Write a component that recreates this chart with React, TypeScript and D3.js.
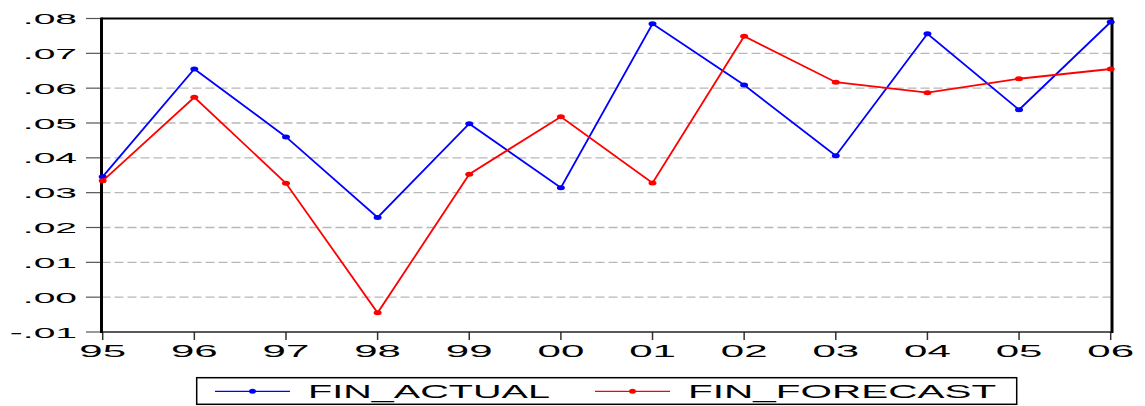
import React from "react";
import * as d3 from "d3";

const years = ["95", "96", "97", "98", "99", "00", "01", "02", "03", "04", "05", "06"];
const finActual = [0.0346, 0.0655, 0.046, 0.0229, 0.0498, 0.0314, 0.0785, 0.0609, 0.0406, 0.0756, 0.0538, 0.079];
const finForecast = [0.0334, 0.0574, 0.0327, -0.0045, 0.0353, 0.0518, 0.0328, 0.0749, 0.0617, 0.0587, 0.0627, 0.0655];
const yTicks = [-0.01, 0.0, 0.01, 0.02, 0.03, 0.04, 0.05, 0.06, 0.07, 0.08];
const yTickLabels = ["-.01", ".00", ".01", ".02", ".03", ".04", ".05", ".06", ".07", ".08"];
const seriesNames = ["FIN_ACTUAL", "FIN_FORECAST"];

const W = 1145;
const H = 406;
const FONT = "'Liberation Sans', Arial, sans-serif";

export default function App() {
  const x = d3.scaleLinear().domain([0, years.length - 1]).range([102.7, 1110.7]);
  const y = d3.scaleLinear().domain([-0.01, 0.08]).range([332, 18.5]);
  const line = d3
    .line<number>()
    .x((_, i) => x(i))
    .y((d) => y(d));

  const series = [
    { name: seriesNames[0], data: finActual, color: "#0000ff" },
    { name: seriesNames[1], data: finForecast, color: "#ff0000" },
  ];

  const left = 101.5;
  const right = 1112;
  const top = y(0.08);
  const bottom = y(-0.01);

  const legendItems = [
    { x0: 215, x1: 290, tx: 308, sx: 2.2 },
    { x0: 595, x1: 670, tx: 688, sx: 2.25 },
  ];

  return (
    <svg width={W} height={H} style={{ position: "absolute", left: 0, top: 0, background: "#fff" }}>
      <rect x={0} y={0} width={W} height={H} fill="#fff" />
      {/* grid */}
      {yTicks
        .filter((t) => t > -0.01 && t < 0.08)
        .map((t) => (
          <line
            key={"g" + t}
            x1={left}
            x2={right}
            y1={y(t)}
            y2={y(t)}
            stroke="#b8b8b8"
            strokeWidth={1.3}
            strokeDasharray="9,4"
          />
        ))}
      {/* y ticks */}
      {yTicks.map((t, i) => (
        <g key={"yt" + t}>
          <line x1={86} x2={left} y1={y(t)} y2={y(t)} stroke="#555" strokeWidth={1.2} />
          <text
            transform={`translate(77,${y(t) + 5.5}) scale(2.6,1)`}
            textAnchor="end"
            fontFamily={FONT}
            fontSize={15}
            fill="#000"
          >
            {yTickLabels[i]}
          </text>
        </g>
      ))}
      {/* x ticks */}
      {years.map((yr, i) => (
        <g key={"xt" + yr}>
          <line x1={x(i)} x2={x(i)} y1={bottom} y2={bottom + 8} stroke="#333" strokeWidth={1.5} />
          <text
            transform={`translate(${x(i)},357) scale(2.55,1)`}
            textAnchor="middle"
            fontFamily={FONT}
            fontSize={16.5}
            fill="#000"
          >
            {yr}
          </text>
        </g>
      ))}
      {/* frame */}
      <line x1={left} x2={right} y1={top} y2={top} stroke="#000" strokeWidth={2} />
      <line x1={left} x2={right} y1={bottom} y2={bottom} stroke="#222" strokeWidth={1.6} />
      <line x1={left} x2={left} y1={top - 1} y2={bottom + 1} stroke="#000" strokeWidth={3} />
      <line x1={right} x2={right} y1={top - 1} y2={bottom + 1} stroke="#000" strokeWidth={3} />
      {/* series */}
      {series.map((s) => (
        <g key={s.name}>
          <path d={line(s.data) || ""} fill="none" stroke={s.color} strokeWidth={1.8} strokeLinejoin="miter" />
          {s.data.map((v, i) => (
            <ellipse key={i} cx={x(i)} cy={y(v)} rx={4} ry={2.5} fill={s.color} />
          ))}
        </g>
      ))}
      {/* legend */}
      <rect x={196.7} y={377.7} width={820} height={26.6} fill="#fff" stroke="#000" strokeWidth={1.5} />
      {series.map((s, i) => {
        const li = legendItems[i];
        return (
          <g key={"lg" + s.name}>
            <line x1={li.x0} x2={li.x1} y1={391.3} y2={391.3} stroke={s.color} strokeWidth={1.3} />
            <ellipse cx={(li.x0 + li.x1) / 2} cy={391.3} rx={3.5} ry={2.5} fill={s.color} />
            <text
              transform={`translate(${li.tx},398.3) scale(${li.sx},1)`}
              fontFamily={FONT}
              fontSize={18}
              fill="#000"
            >
              {s.name}
            </text>
          </g>
        );
      })}
    </svg>
  );
}
